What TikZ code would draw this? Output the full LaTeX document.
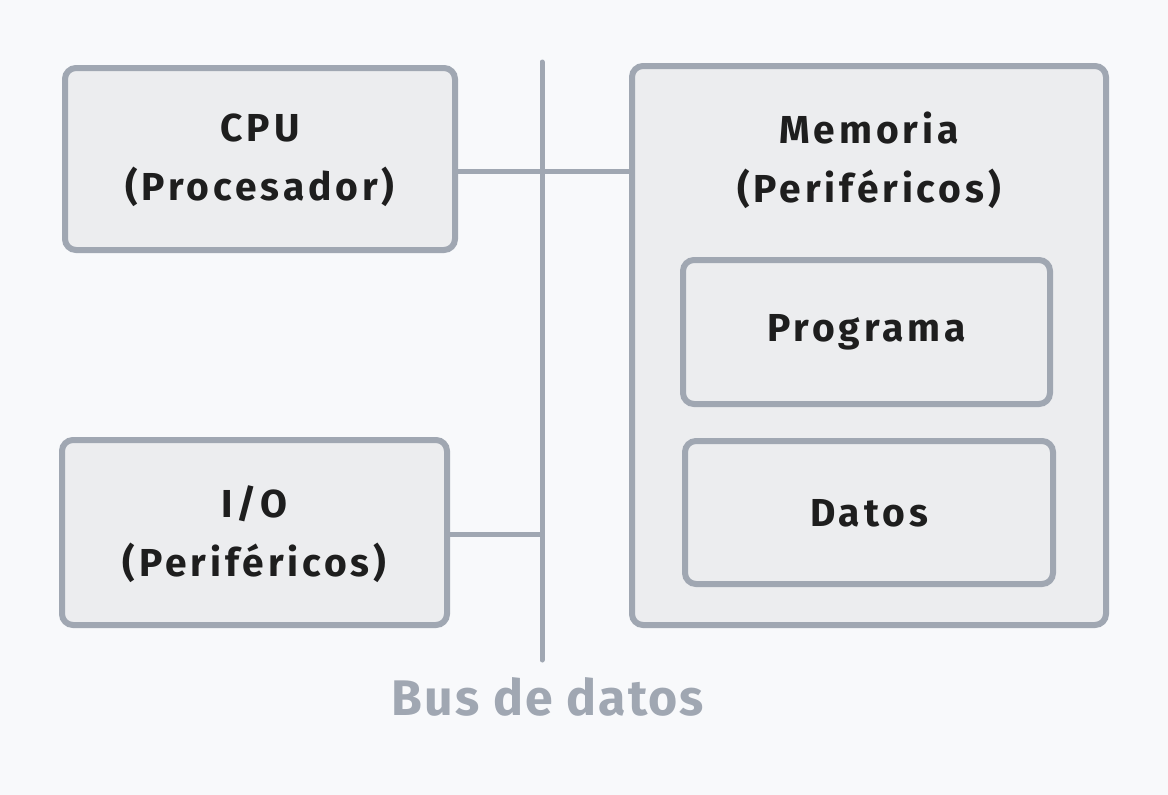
\documentclass[tikz,border=0pt]{standalone}
\usepackage{fontspec}
\setmainfont{Fira Sans}
\newfontfamily\boxfont[LetterSpace=10]{Fira Sans}
\newfontfamily\busfont[LetterSpace=4]{Fira Sans}
\definecolor{bg}{HTML}{F8F9FB}
\definecolor{edge}{HTML}{A0A7B2}
\definecolor{boxfill}{HTML}{ECEDEF}
\definecolor{ink}{HTML}{1E1E1E}
\begin{document}
\begin{tikzpicture}[x=1pt,y=-1pt,
  blk/.style={draw=edge, fill=boxfill, line width=6pt, rounded corners=11pt, inner sep=0pt},
  txt/.style={text=ink, align=center, font=\boxfont\fontsize{39}{59}\selectfont\bfseries},
  wire/.style={draw=edge, line width=5pt}]
\fill[bg] (0,0) rectangle (1168,795);
\useasboundingbox (0,0) rectangle (1168,795);
% boxes
\node[blk, minimum width=390pt, minimum height=182pt] (cpu) at (260,159) {};
\node[blk, minimum width=385pt, minimum height=185pt] (io) at (254.5,532.5) {};
\node[blk, minimum width=474pt, minimum height=559pt] (mem) at (869,345.5) {};
\node[blk, minimum width=367pt, minimum height=144pt] (prog) at (866.5,332) {};
\node[blk, minimum width=368pt, minimum height=143pt] (dat) at (869,512.5) {};
% texts
\node[txt] (cputxt) at (260,160) {CPU\\(Procesador)};
\node[txt] (iotxt) at (254.5,534) {I/O\\(Periféricos)};
\node[txt] (memtxt) at (869,160) {Memoria\\(Periféricos)};
\node[txt] (progtxt) at (866.5,332) {Programa};
\node[txt] (dattxt) at (869,513) {Datos};
% bus
\coordinate (bustop) at (542,62);
\coordinate (busbot) at (542,660);
\draw[wire, line cap=round] (bustop) -- (busbot);
\draw[wire] ([yshift=-12pt]cpu.east) -- ([yshift=-12pt]cpu.east -| mem.west);
\draw[wire] ([yshift=-1.5pt]io.east) -- ([yshift=-1.5pt]io.east -| bustop);
\node[text=edge, font=\busfont\fontsize{50}{60}\selectfont\bfseries] (buslbl) at (548,697) {Bus de datos};
\end{tikzpicture}
\end{document}
